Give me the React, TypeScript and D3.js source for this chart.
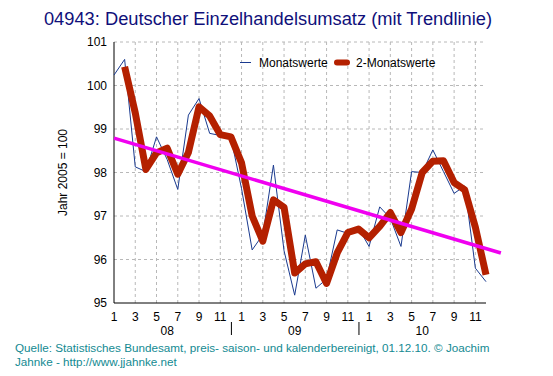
import React from "react";
import * as d3 from "d3";

const monthly: number[] = [
  100.24, 100.6, 98.13, 98.02, 98.82, 98.3, 97.61, 99.32, 99.7, 98.9, 98.85, 98.8,
  97.63, 96.22, 96.57, 98.17, 96.2, 95.18, 96.56, 95.34, 95.55, 96.68, 96.6, 96.72,
  96.3, 97.21, 96.95, 96.3, 98.02, 98.0, 98.52, 98.02, 97.52, 97.69, 95.8, 95.49,
];
// 2-month values start at the second month
const twoMonth: number[] = [
  100.43, 99.37, 98.07, 98.45, 98.56, 97.96, 98.46, 99.51, 99.3, 98.87, 98.82,
  98.22, 97.0, 96.42, 97.37, 97.2, 95.69, 95.9, 95.95, 95.45, 96.15, 96.62, 96.7,
  96.5, 96.76, 97.08, 96.62, 97.16, 98.0, 98.26, 98.27, 97.77, 97.6, 96.74, 95.65,
];
const trendX: number[] = [0, 36.4];
const trendY: number[] = [98.79, 96.15];
const yTicks: number[] = [95, 96, 97, 98, 99, 100, 101];
const monthLabels: string[] = ["1", "3", "5", "7", "9", "11"];
const years: string[] = ["08", "09", "10"];
const legendLabels: string[] = ["Monatswerte", "2-Monatswerte"];

const W = 553;
const H = 376;
const left = 114;
const right = 486;
const top = 42;
const bottom = 303;
const FONT = "'Liberation Sans', Arial, sans-serif";

export default function App() {
  const x = d3.scaleLinear().domain([0, 35]).range([left, right]);
  const y = d3.scaleLinear().domain([95, 101]).range([bottom, top]);

  const line = d3
    .line<[number, number]>()
    .x((d) => x(d[0]))
    .y((d) => y(d[1]));

  const monthlyPts: [number, number][] = monthly.map((v, i) => [i, v]);
  const twoPts: [number, number][] = twoMonth.map((v, i) => [i + 1, v]);
  const trendPts: [number, number][] = trendX.map((v, i) => [v, trendY[i]]);

  const xTickIdx = d3.range(0, 36, 2);
  const gridX = d3.range(2, 35, 2);

  return (
    <svg
      width={W}
      height={H}
      style={{ position: "absolute", left: 0, top: 0, background: "#fff" }}
      fontFamily={FONT}
    >
      <rect width={W} height={H} fill="#fff" />
      <text x={268} y={25} textAnchor="middle" fontSize={18.3} fill="#10107a">
        04943: Deutscher Einzelhandelsumsatz (mit Trendlinie)
      </text>

      {/* grid */}
      {yTicks.slice(1).map((t) => (
        <line
          key={"gy" + t}
          x1={left}
          x2={right}
          y1={y(t)}
          y2={y(t)}
          stroke="#b8b8b8"
          strokeDasharray="3,3"
        />
      ))}
      {gridX.map((i) => (
        <line
          key={"gx" + i}
          x1={x(i)}
          x2={x(i)}
          y1={top}
          y2={bottom}
          stroke="#b8b8b8"
          strokeDasharray="3,3"
        />
      ))}

      {/* axes */}
      <line x1={left} x2={left} y1={top} y2={bottom} stroke="#000" />
      <line x1={left} x2={right} y1={bottom} y2={bottom} stroke="#000" />

      {yTicks.map((t) => (
        <text key={"yt" + t} x={107} y={y(t) + 4} textAnchor="end" fontSize={12} fill="#000">
          {t}
        </text>
      ))}
      {xTickIdx.map((i, k) => (
        <text key={"xt" + i} x={x(i)} y={321} textAnchor="middle" fontSize={12} fill="#000">
          {monthLabels[k % 6]}
        </text>
      ))}
      {years.map((yr, k) => (
        <text key={"yr" + yr} x={x(5 + k * 12)} y={335} textAnchor="middle" fontSize={12} fill="#000">
          {yr}
        </text>
      ))}
      {[11, 23].map((i) => (
        <line key={"sep" + i} x1={x(i) + 0.5} x2={x(i) + 0.5} y1={322} y2={335} stroke="#000" />
      ))}

      <text
        transform={`translate(67,${(top + bottom) / 2}) rotate(-90)`}
        textAnchor="middle"
        fontSize={12}
        fill="#000"
      >
        Jahr 2005 = 100
      </text>

      {/* series */}
      <path d={line(monthlyPts) || ""} fill="none" stroke="#1a3a8f" strokeWidth={1} />
      <path
        d={line(twoPts) || ""}
        fill="none"
        stroke="#b42000"
        strokeWidth={7}
        strokeLinejoin="round"
        strokeLinecap="butt"
      />
      <path d={line(trendPts) || ""} fill="none" stroke="#f000f0" strokeWidth={3.5} />

      {/* legend */}
      <line x1={240} x2={251} y1={62.5} y2={62.5} stroke="#1a3a8f" strokeWidth={1} />
      <text x={259} y={67} fontSize={12} fill="#000">
        {legendLabels[0]}
      </text>
      <line x1={337} x2={347} y1={62.5} y2={62.5} stroke="#b42000" strokeWidth={6} strokeLinecap="round" />
      <text x={356} y={67} fontSize={12} fill="#000">
        {legendLabels[1]}
      </text>

      {/* footer */}
      <text x={15} y={352} fontSize={11.7} fill="#138a92">
        Quelle: Statistisches Bundesamt, preis- saison- und kalenderbereinigt, 01.12.10. © Joachim
      </text>
      <text x={15} y={366} fontSize={11.7} fill="#138a92">
        Jahnke - http://www.jjahnke.net
      </text>
    </svg>
  );
}
